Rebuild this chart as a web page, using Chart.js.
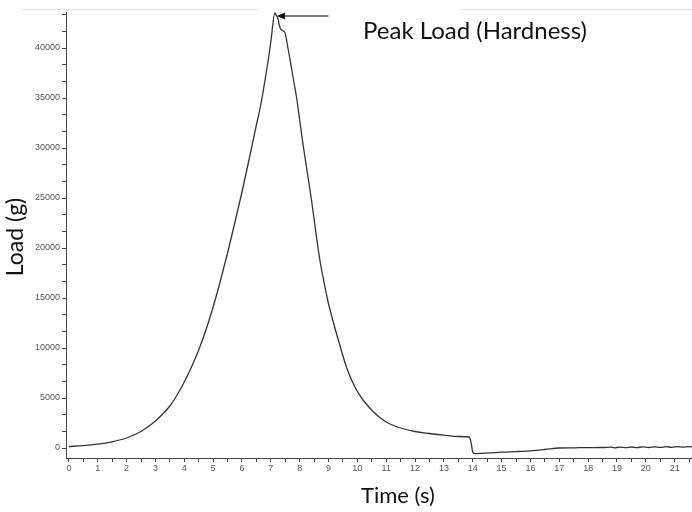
<!DOCTYPE html>
<html>
<head>
<meta charset="utf-8">
<script src="https://cdn.jsdelivr.net/npm/chart.js@4.4.1/dist/chart.umd.min.js"></script>
<style>
    body { margin: 0; background: #fff; }
    #wrap { width: 692px; height: 512px; position: relative; }
</style>
</head>
<body>
<div id="wrap"><canvas id="load-chart"></canvas></div>
<script>
// Texture analysis trace: load vs time
const timeSec = [
    0, 0.5, 1, 1.5, 2, 2.5, 3, 3.25, 3.5, 3.75,
    4, 4.25, 4.5, 4.75, 5, 5.25, 5.5, 5.75, 6, 6.25,
    6.5, 6.65, 6.8, 6.9, 7.0, 7.14, 7.2, 7.25, 7.3, 7.37,
    7.48, 7.6, 7.71, 7.8, 7.89, 8.0, 8.11, 8.25, 8.41, 8.55,
    8.7, 8.85, 8.97, 9.1, 9.27, 9.45, 9.62, 9.8, 9.97, 10.2,
    10.43, 10.6, 10.8, 11.0, 11.25, 11.5, 12.0, 12.5, 13.0, 13.5, 13.88,
    13.95, 14.0, 14.08, 14.5, 15.0, 15.5, 16.0, 16.5, 17.0, 17.5,
    18.0, 18.5, 18.8, 18.9, 19.1, 19.3, 19.5, 19.7, 19.9, 20.1,
    20.3, 20.5, 20.7, 20.9, 21.1, 21.3, 21.5, 21.6
];
const loadGrams = [
    150, 230, 380, 620, 1000, 1650, 2700, 3400, 4200, 5300,
    6600, 8100, 9800, 11800, 14100, 16700, 19500, 22500, 25600, 28900,
    32300, 34300, 36800, 38600, 40600, 43500, 43200, 42900, 42200, 41800,
    41600, 39900, 38100, 36600, 35100, 32800, 30500, 27800, 24800, 21800,
    18800, 16500, 14800, 13300, 11500, 9700, 8100, 6800, 5800, 4800,
    4000, 3500, 3000, 2600, 2250, 2000, 1650, 1450, 1280, 1150, 1100,
    400, -400, -560, -520, -420, -360, -280, -150, 0, 20,
    40, 50, 90, 20, 80, 30, 100, 40, 110, 50,
    120, 60, 130, 70, 140, 80, 130, 110
];

// ticks: x every 0.5 s (labels on whole seconds), y every 5000/3 g (labels every 5000)
const xTickValues = [];
for (let t = 0; t <= 21.5; t += 0.5) xTickValues.push(t);
const yTickValues = [];
for (let i = 0; i <= 26; i++) yTickValues.push(i * 5000 / 3);

const peakTime = 7.14;
const peakLoad = 43500;

const axisFont = { family: 'Liberation Sans, Arial, sans-serif', size: 9 };
const titleFont = 'Lato, "Open Sans", sans-serif';

const overlay = {
    id: 'overlay',
    afterDraw(chart) {
        const c = chart.ctx;
        const x = chart.scales.x;
        const y = chart.scales.y;
        c.save();

        // faint top frame line
        c.strokeStyle = '#e2e2e2';
        c.lineWidth = 1;
        c.beginPath();
        c.moveTo(22, 9.5); c.lineTo(258, 9.5);
        c.moveTo(460, 9.5); c.lineTo(692, 9.5);
        c.stroke();

        // arrow pointing at the peak
        const tipX = x.getPixelForValue(peakTime) + 2;
        const tipY = y.getPixelForValue(peakLoad) + 3;
        const tailX = x.getPixelForValue(9.0);
        c.strokeStyle = '#555';
        c.lineWidth = 1.5;
        c.beginPath();
        c.moveTo(tailX, tipY); c.lineTo(tipX + 6, tipY);
        c.stroke();
        c.fillStyle = '#111';
        c.beginPath();
        c.moveTo(tipX, tipY);
        c.lineTo(tipX + 8, tipY - 3.5);
        c.lineTo(tipX + 8, tipY + 3.5);
        c.closePath();
        c.fill();

        // texts
        c.fillStyle = '#111';
        c.textBaseline = 'alphabetic';
        c.textAlign = 'left';
        c.font = '24px ' + titleFont;
        c.fillText('Peak Load (Hardness)', 363, 39);

        c.font = '22px ' + titleFont;
        c.textAlign = 'center';
        c.fillText('Time (s)', 398, 503);

        c.translate(23, 237);
        c.rotate(-Math.PI / 2);
        c.font = '23px ' + titleFont;
        c.fillText('Load (g)', 0, 0);
        c.restore();
    }
};

new Chart(document.getElementById('load-chart'), {
    type: 'line',
    data: {
        datasets: [{
            data: timeSec.map((t, i) => ({ x: t, y: loadGrams[i] })),
            borderColor: '#333',
            borderWidth: 1.3,
            pointRadius: 0,
            fill: false,
            cubicInterpolationMode: 'monotone'
        }]
    },
    options: {
        responsive: true,
        maintainAspectRatio: false,
        animation: false,
        layout: { padding: { top: 12, right: 0, left: 0, bottom: 0 } },
        plugins: {
            legend: { display: false },
            tooltip: { enabled: false }
        },
        scales: {
            x: {
                type: 'linear',
                min: -0.1,
                max: 21.6,
                afterBuildTicks: scale => { scale.ticks = xTickValues.map(v => ({ value: v })); },
                afterFit: scale => { scale.height = 54; },
                ticks: {
                    color: '#555',
                    font: axisFont,
                    padding: 1,
                    maxRotation: 0,
                    autoSkip: false,
                    callback: v => Number.isInteger(v) ? String(v) : ''
                },
                grid: {
                    drawOnChartArea: false,
                    drawTicks: true,
                    tickLength: 4,
                    tickColor: '#444'
                },
                border: { color: '#444', width: 1 }
            },
            y: {
                min: -1000,
                max: 43600,
                afterBuildTicks: scale => { scale.ticks = yTickValues.map(v => ({ value: v })); },
                afterFit: scale => { scale.width = 66; },
                ticks: {
                    color: '#555',
                    font: axisFont,
                    padding: 2,
                    autoSkip: false,
                    callback: v => Math.abs(v / 5000 - Math.round(v / 5000)) < 1e-6 ? String(Math.round(v)) : ''
                },
                grid: {
                    drawOnChartArea: false,
                    drawTicks: true,
                    tickLength: 4,
                    tickColor: '#444'
                },
                border: { color: '#444', width: 1 }
            }
        }
    },
    plugins: [overlay]
});
</script>
</body>
</html>
